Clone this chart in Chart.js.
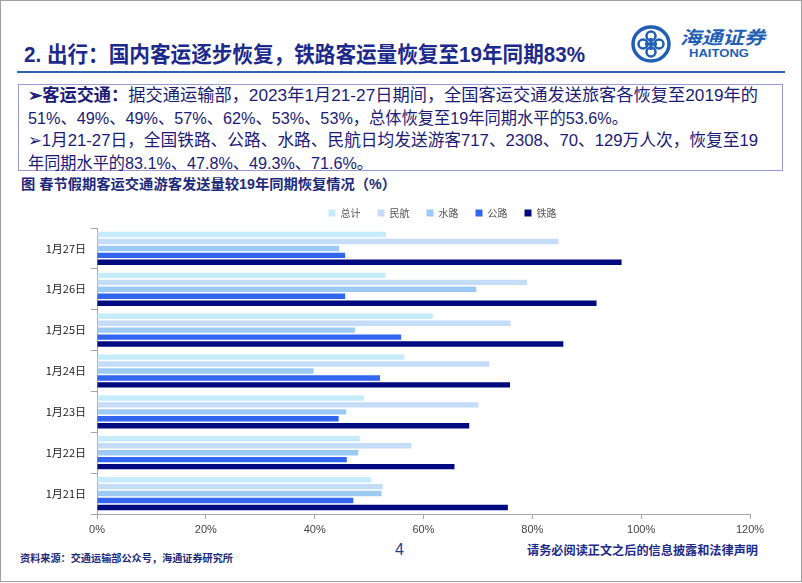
<!DOCTYPE html>
<html>
<head>
<meta charset="utf-8">
<script src="https://cdn.jsdelivr.net/npm/chart.js@4.4.1/dist/chart.umd.min.js"></script>
<style>
  body { margin: 0; background: #fff; width: 802px; height: 583px; position: relative; overflow: hidden;
         font-family: "Liberation Sans Narrow", "Liberation Sans", "Noto Sans CJK SC", sans-serif; }
  .abs { position: absolute; white-space: nowrap; transform-origin: 0 50%; line-height: 1; }
  #frame { position: absolute; left: 0; top: 0; width: 800px; height: 580px; border: 1px solid #a0a0a0; }
  #rule { position: absolute; left: 17px; top: 71px; width: 768px; height: 2px; background: #2f63b2; }
  #box { position: absolute; left: 18px; top: 84px; width: 763px; height: 85px; border: 1.5px solid #9a9ad0; }
  .body { font-size: 17px; color: #1c1c78; }
  #wrap { position: absolute; left: 0; top: 190px; width: 802px; height: 350px; }
</style>
</head>
<body>
<div id="frame"></div>

<div class="abs" id="title" style="left:24px; top:44px; font-size:22px; font-weight:bold; color:#1d2a8c;">2. 出行：国内客运逐步恢复，铁路客运量恢复至19年同期83%</div>
<div id="rule"></div>

<svg style="position:absolute; left:631px; top:25px;" width="40" height="38" viewBox="0 0 40 38">
  <ellipse cx="20" cy="19" rx="18" ry="17" fill="none" stroke="#1f5fb5" stroke-width="3.5"/>
  <circle cx="20" cy="11" r="4.5" fill="none" stroke="#1f5fb5" stroke-width="2.5"/>
  <circle cx="20" cy="27" r="4.5" fill="none" stroke="#1f5fb5" stroke-width="2.5"/>
  <circle cx="12" cy="19" r="4.5" fill="none" stroke="#1f5fb5" stroke-width="2.5"/>
  <circle cx="28" cy="19" r="4.5" fill="none" stroke="#1f5fb5" stroke-width="2.5"/>
  <rect x="18.5" y="13" width="3" height="12" fill="#1f5fb5"/>
  <rect x="14" y="17.5" width="12" height="3" fill="#1f5fb5"/>
</svg>
<div class="abs" id="logo1" style="left:680px; top:27px; font-size:18px; font-weight:bold; font-style:italic; color:#1f5fb5; font-family:'Noto Sans CJK SC';">海通证券</div>
<div class="abs" id="logo2" style="left:689px; top:48px; font-size:11px; font-weight:bold; color:#1f5fb5; font-family:'Liberation Sans';">HAITONG</div>

<div id="box"></div>
<div class="abs body" id="l1" style="left:28px; top:87px;"><b>➢客运交通：</b>据交通运输部，2023年1月21-27日期间，全国客运交通发送旅客各恢复至2019年的</div>
<div class="abs body" id="l2" style="left:28px; top:109.5px;">51%、49%、49%、57%、62%、53%、53%，总体恢复至19年同期水平的53.6%。</div>
<div class="abs body" id="l3" style="left:28px; top:132px;">➢1月21-27日，全国铁路、公路、水路、民航日均发送游客717、2308、70、129万人次，恢复至19</div>
<div class="abs body" id="l4" style="left:28px; top:154.5px;">年同期水平的83.1%、47.8%、49.3%、71.6%。</div>

<div class="abs" id="ctitle" style="left:21px; top:177px; font-size:14px; font-weight:bold; color:#1d2a7c;">图 春节假期客运交通游客发送量较19年同期恢复情况（%）</div>

<div id="wrap"><canvas id="chart"></canvas></div>

<div class="abs" id="src" style="left:20px; top:553px; font-size:10px; font-weight:bold; color:#1d2a7c; font-family:'Noto Sans CJK SC';">资料来源：交通运输部公众号，海通证券研究所</div>
<div class="abs" id="pg" style="left:395px; top:542px; font-size:16px; color:#2b3a9a; font-family:'Liberation Sans';">4</div>
<div class="abs" id="disc" style="left:527px; top:544px; font-size:12px; font-weight:bold; color:#1d2a8c; font-family:'Noto Sans CJK SC';">请务必阅读正文之后的信息披露和法律声明</div>

<script>
var dates = ['1月27日', '1月26日', '1月25日', '1月24日', '1月23日', '1月22日', '1月21日'];
var total    = [53.1, 53.0, 61.7, 56.5, 49.1, 48.3, 50.4];   // 总计
var aviation = [84.8, 79.0, 76.0, 72.1, 70.1, 57.8, 52.5];   // 民航
var water    = [44.5, 69.7, 47.4, 39.8, 45.8, 48.0, 52.3];   // 水路
var road     = [45.6, 45.6, 55.9, 52.0, 44.4, 45.9, 47.1];   // 公路
var railway  = [96.4, 91.8, 85.7, 75.9, 68.4, 65.7, 75.5];   // 铁路
var xTicks   = [0, 20, 40, 60, 80, 100, 120];

function fitText(id, width) {
    var el = document.getElementById(id);
    var w = el.getBoundingClientRect().width;
    el.style.transform = 'scaleX(' + (width / w) + ')';
}

document.fonts.ready.then(function () {
    fitText('title', 561);
    fitText('logo1', 85);
    fitText('logo2', 60);
    fitText('l1', 730);
    fitText('l2', 600);
    fitText('l3', 730);
    fitText('l4', 345);
    fitText('ctitle', 375);
    fitText('src', 213);
    fitText('disc', 231);
});

// nudge the legend so it sits where the original had it
var legendShift = {
    id: 'legendShift',
    afterLayout: function (chart) {
        chart.legend.left += 19;
        chart.legend.right += 19;
    }
};

var ctx = document.getElementById('chart').getContext('2d');
var chart = new Chart(ctx, {
    type: 'bar',
    data: {
        labels: dates,
        datasets: [
            { label: '总计', data: total,    backgroundColor: '#c6ecfc' },
            { label: '民航', data: aviation, backgroundColor: '#c4dcf7' },
            { label: '水路', data: water,    backgroundColor: '#9ccaf5' },
            { label: '公路', data: road,     backgroundColor: '#3366ee' },
            { label: '铁路', data: railway,  backgroundColor: '#000a80' }
        ]
    },
    options: {
        indexAxis: 'y',
        responsive: true,
        maintainAspectRatio: false,
        animation: false,
        datasets: { bar: { categoryPercentage: 0.85, barPercentage: 0.78 } },
        layout: { padding: { left: 0, right: 52, top: 1, bottom: 0 } },
        plugins: {
            tooltip: { enabled: false },
            legend: {
                position: 'top',
                fullSize: false,
                labels: {
                    boxWidth: 7, boxHeight: 7, padding: 17,
                    color: '#555',
                    font: { size: 10, family: 'Noto Sans CJK SC' }
                }
            }
        },
        scales: {
            x: {
                min: 0, max: 120,
                afterFit: function (s) { s.height = 26; },
                afterBuildTicks: function (s) { s.ticks = xTicks.map(function (v) { return { value: v }; }); },
                ticks: {
                    callback: function (v) { return v + '%'; },
                    color: '#444', padding: 4,
                    font: { size: 11, family: 'Liberation Sans Narrow, Liberation Sans' }
                },
                grid: { drawOnChartArea: false, tickLength: 5, color: '#a8a8a8' },
                border: { color: '#a8a8a8' }
            },
            y: {
                afterFit: function (s) { s.width = 97; },
                ticks: {
                    color: '#222', padding: 5,
                    font: { size: 11, family: 'Liberation Sans Narrow, Noto Sans CJK SC' }
                },
                grid: { drawOnChartArea: false, offset: true, tickLength: 6, color: '#a8a8a8' },
                border: { color: '#a8a8a8' }
            }
        }
    },
    plugins: [legendShift]
});
</script>
</body>
</html>
